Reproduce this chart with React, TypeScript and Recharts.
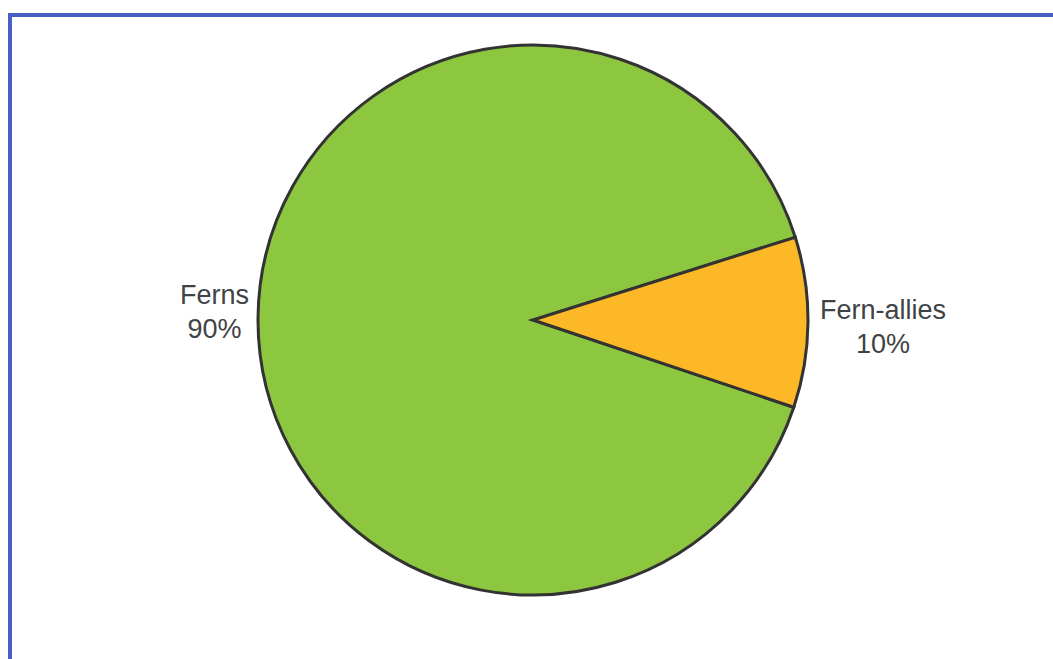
import React from 'react';
import { PieChart, Pie, Cell } from 'recharts';

const CATEGORIES = ['Ferns', 'Fern-allies'];
const VALUES = [90, 10];
const PERCENT_LABELS = ['90%', '10%'];
const COLORS = ['#8DC63F', '#FDB827'];

const data = CATEGORIES.map((name, i) => ({ name, value: VALUES[i] }));

const FONT = '27px "Liberation Sans", Arial, sans-serif';
let ctx: CanvasRenderingContext2D | null = null;
const measure = (t: string) => {
  if (!ctx) ctx = document.createElement('canvas').getContext('2d');
  if (!ctx) return t.length * 13;
  ctx.font = FONT;
  return ctx.measureText(t).width;
};

const renderLabel = (props: any) => {
  const { cx, cy, midAngle, outerRadius, index } = props;
  const rad = (-midAngle * Math.PI) / 180;
  const cos = Math.cos(rad);
  const sin = Math.sin(rad);
  const lines = [CATEGORIES[index], PERCENT_LABELS[index]];
  const w = Math.max(...lines.map(measure));
  const right = cos >= 0;
  const gap = right ? 12 : 9;
  const ex = cx + outerRadius * cos;
  const ey = cy + outerRadius * sin;
  const x = ex + (right ? 1 : -1) * (gap + w / 2);
  const yc = ey + (right ? 4 : -7);
  return (
    <text
      x={x}
      y={yc - 7}
      textAnchor="middle"
      fill="#3f4345"
      style={{ font: FONT }}
    >
      <tspan x={x} dy={0}>{lines[0]}</tspan>
      <tspan x={x} dy={34}>{lines[1]}</tspan>
    </text>
  );
};

export default function App() {
  return (
    <div style={{ position: 'absolute', left: 0, top: 0, width: 1053, height: 659, background: '#fff', overflow: 'hidden' }}>
      <div
        style={{
          position: 'absolute',
          left: 8,
          top: 13,
          width: 1053,
          height: 659,
          borderTop: '4px solid #4b5ec4',
          borderLeft: '4px solid #4b5ec4',
        }}
      />
      <div style={{ position: 'absolute', left: 0, top: 0 }}>
        <PieChart width={1053} height={659} margin={{ top: 0, right: 0, bottom: 0, left: 0 }}>
          <Pie
            data={data}
            dataKey="value"
            nameKey="name"
            cx={533}
            cy={320}
            outerRadius={275}
            startAngle={17.5}
            endAngle={377.5}
            stroke="#333333"
            strokeWidth={3}
            label={renderLabel}
            labelLine={false}
            isAnimationActive={false}
          >
            {data.map((d, i) => (
              <Cell key={d.name} fill={COLORS[i]} />
            ))}
          </Pie>
        </PieChart>
      </div>
    </div>
  );
}
